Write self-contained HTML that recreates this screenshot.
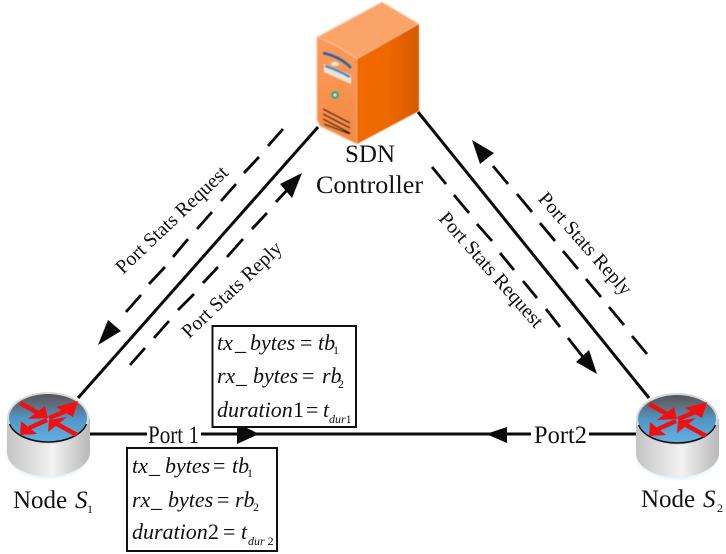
<!DOCTYPE html>
<html>
<head>
<meta charset="utf-8">
<style>
html,body{margin:0;padding:0;background:#fff;width:726px;height:554px;overflow:hidden}
svg{display:block;filter:blur(.35px)}
text{font-family:"Liberation Serif",serif;fill:#111}
.it{font-style:italic}
.b{font-size:22px;font-style:italic}
.s{font-size:12px}
.r{font-style:normal}
</style>
</head>
<body>
<svg width="726" height="554" viewBox="0 0 726 554" xmlns="http://www.w3.org/2000/svg">
<defs>
<linearGradient id="top" x1="0" y1="0" x2="0" y2="1">
<stop offset="0" stop-color="#55585c"/><stop offset=".2" stop-color="#5f6b75"/><stop offset=".5" stop-color="#4f96c6"/><stop offset="1" stop-color="#63b0e0"/>
</linearGradient>
<linearGradient id="body" x1="0" y1="0" x2="1" y2="0">
<stop offset="0" stop-color="#c4c4c4"/><stop offset=".55" stop-color="#f2f2f2"/><stop offset="1" stop-color="#b8b8b8"/>
</linearGradient>
<linearGradient id="front" x1="0" y1="0" x2="0" y2="1">
<stop offset="0" stop-color="#fb9a5c"/><stop offset="1" stop-color="#f58a42"/>
</linearGradient>
<linearGradient id="side" x1="0" y1="0" x2="1" y2="0">
<stop offset="0" stop-color="#f26a06"/><stop offset=".5" stop-color="#ee6804"/><stop offset="1" stop-color="#d45a04"/>
</linearGradient>
<filter id="soft" x="-10%" y="-10%" width="120%" height="120%"><feGaussianBlur stdDeviation="0.4"/></filter>
<filter id="glow" x="-20%" y="-20%" width="140%" height="140%"><feGaussianBlur stdDeviation="2"/></filter>
<g id="router">
<ellipse cx="48" cy="453" rx="40" ry="24" fill="#cfe6f5" filter="url(#glow)"/>
<path d="M7 418 V452 C7 466 25 476 48 476 C71 476 90 466 90 452 V418 Z" fill="url(#body)"/>
<ellipse cx="48" cy="418" rx="41" ry="26" fill="#d8d8d8"/>
<ellipse cx="48" cy="418" rx="39" ry="24" fill="url(#top)"/>
<path d="M9.5 424 C14 435 30 442 48 442 C66 442 82 435 86.5 424" fill="none" stroke="#111" stroke-width="1.6"/>
<g stroke="#f01010" stroke-width="4.5" fill="none">
<line x1="20" y1="403" x2="40" y2="414"/>
<line x1="77" y1="435" x2="57" y2="424"/>
<line x1="49" y1="418" x2="66" y2="411"/>
<line x1="47" y1="420" x2="29" y2="428"/>
</g>
<g fill="#f01010">
<path d="M48 418L45 406L28 419Z"/>
<path d="M49 420L48 432L67 417Z"/>
<path d="M78 401L56 407L73 417Z"/>
<path d="M20 435L21 421L37 434Z"/>
</g>
</g>
</defs>

<!-- main triangle lines -->
<g stroke="#0a0a0a" stroke-width="3" fill="none">
<line x1="318" y1="127" x2="78" y2="398"/>
<line x1="418" y1="112" x2="649" y2="398"/>
<line x1="87" y1="434" x2="147" y2="434"/>
<line x1="201" y1="434" x2="531" y2="434"/>
<line x1="589" y1="434" x2="637" y2="434"/>
</g>

<!-- dashed -->
<g stroke="#0a0a0a" stroke-width="2.8" fill="none">
<path d="M283 129L268 146M259 157L244 173M236 184L221 201M212 212L197 229M188 239L173 257M165 267L149 284M141 295L126 312"/>
<path d="M130 365L145 348M154 338L169 321M178 310L194 294M203 283L218 267M227 257L243 239M252 229L267 213M276 202L288 189"/>
<path d="M432 167L446 184M454 195L469 213M477 224L492 241M500 253L514 270M523 281L537 298M546 309L560 327M568 338L583 357"/>
<path d="M493 166L508 184M517 194L532 212M540 223L555 241M563 251L578 269M586 279L601 297M609 307L624 325M632 336L647 354"/>
</g>

<!-- arrowheads -->
<g fill="#0a0a0a">
<path d="M98 345L108 320L121 331Z"/>
<path d="M302 173L280 184L292 198Z"/>
<path d="M597 374L576 362L589 350Z"/>
<path d="M472 140L480 164L494 153Z"/>
<path d="M259 434L237 423V444Z"/>
<path d="M486 434L507 427V443Z"/>
</g>

<!-- server -->
<g filter="url(#soft)">
<path d="M317 37L382 2L419 24L357 59Z" fill="#fba46a" stroke="#f7d6bc" stroke-width="1"/>
<path d="M317 37C330 42 345 50 357 59V144L320 126L317 120Z" fill="url(#front)" stroke="#fbc29a" stroke-width="1"/>
<path d="M357 59L419 24V111L357 144Z" fill="url(#side)"/>
<path d="M323 53C333 55 344 60 351 68" fill="none" stroke="#17679e" stroke-width="3"/>
<ellipse cx="335" cy="64" rx="4" ry="2" fill="#f2efe6"/>
<path d="M324 64L351 75V84L324 72Z" fill="#e9e3d8"/>
<path d="M325 66C334 69 343 73 350 77" fill="none" stroke="#3d8ec2" stroke-width="2.5"/>
<circle cx="335" cy="95" r="4" fill="#2c9a80"/>
<circle cx="335" cy="95" r="1.8" fill="#bfe8da"/>
<path d="M323 109L350 123M323 114L350 128M323 119L350 133M324 124L350 134" stroke="#3a1e0e" stroke-width="1.4" fill="none"/>
</g>

<!-- routers -->
<use href="#router"/>
<use href="#router" transform="translate(629,1)"/>

<!-- boxes -->
<rect x="212.5" y="326" width="143.5" height="101" fill="#fff" stroke="#111" stroke-width="2"/>
<rect x="127" y="448" width="150" height="103" fill="#fff" stroke="#111" stroke-width="2"/>

<!-- box 1 text -->
<text class="b" y="350"><tspan x="217">tx</tspan><tspan x="235">_</tspan><tspan x="250">bytes</tspan><tspan class="r" x="300">=</tspan><tspan x="318">tb</tspan></text>
<text class="s" x="333" y="354">1</text>
<text class="b" y="383"><tspan x="217">rx</tspan><tspan x="236">_</tspan><tspan x="253">bytes</tspan><tspan class="r" x="302">=</tspan><tspan x="322">rb</tspan></text>
<text class="s" x="338" y="388">2</text>
<text class="b" y="417"><tspan x="217">duration</tspan><tspan class="r" x="293">1</tspan><tspan class="r" x="306">=</tspan><tspan x="323">t</tspan></text>
<text class="s it" x="329" y="423">dur<tspan class="r">1</tspan></text>

<!-- box 2 text -->
<text class="b" y="473"><tspan x="132">tx</tspan><tspan x="149">_</tspan><tspan x="165">bytes</tspan><tspan class="r" x="213">=</tspan><tspan x="232">tb</tspan></text>
<text class="s" x="247" y="477">1</text>
<text class="b" y="507"><tspan x="132">rx</tspan><tspan x="151">_</tspan><tspan x="168">bytes</tspan><tspan class="r" x="217">=</tspan><tspan x="235">rb</tspan></text>
<text class="s" x="253" y="511">2</text>
<text class="b" y="539"><tspan x="132">duration</tspan><tspan class="r" x="208">2</tspan><tspan class="r" x="223">=</tspan><tspan x="241">t</tspan></text>
<text class="s it" x="248" y="545">dur<tspan class="r"> 2</tspan></text>

<!-- labels -->
<text x="345" y="162" font-size="25">SDN</text>
<text x="316" y="193" font-size="25" textLength="107" lengthAdjust="spacingAndGlyphs">Controller</text>
<text x="148" y="443" font-size="25" textLength="51" lengthAdjust="spacingAndGlyphs">Port 1</text>
<text x="534" y="443" font-size="25" textLength="53" lengthAdjust="spacingAndGlyphs">Port2</text>
<text x="13" y="508" font-size="25">Node</text>
<text class="it" x="75" y="508" font-size="25">S</text>
<text class="s" x="87" y="513">1</text>
<text x="641" y="507" font-size="25">Node</text>
<text class="it" x="703" y="507" font-size="25">S</text>
<text class="s" x="717" y="512">2</text>

<text font-size="20" text-anchor="middle" transform="translate(172,220) rotate(-43.5)" dy="6">Port Stats Request</text>
<text font-size="20" text-anchor="middle" transform="translate(232,290) rotate(-43.5)" dy="6">Port Stats Reply</text>
<text font-size="20" text-anchor="middle" transform="translate(491,270) rotate(48.5)" dy="6">Port Stats Request</text>
<text font-size="20" text-anchor="middle" transform="translate(585,244) rotate(48.5)" dy="6">Port Stats Reply</text>
</svg>
</body>
</html>
